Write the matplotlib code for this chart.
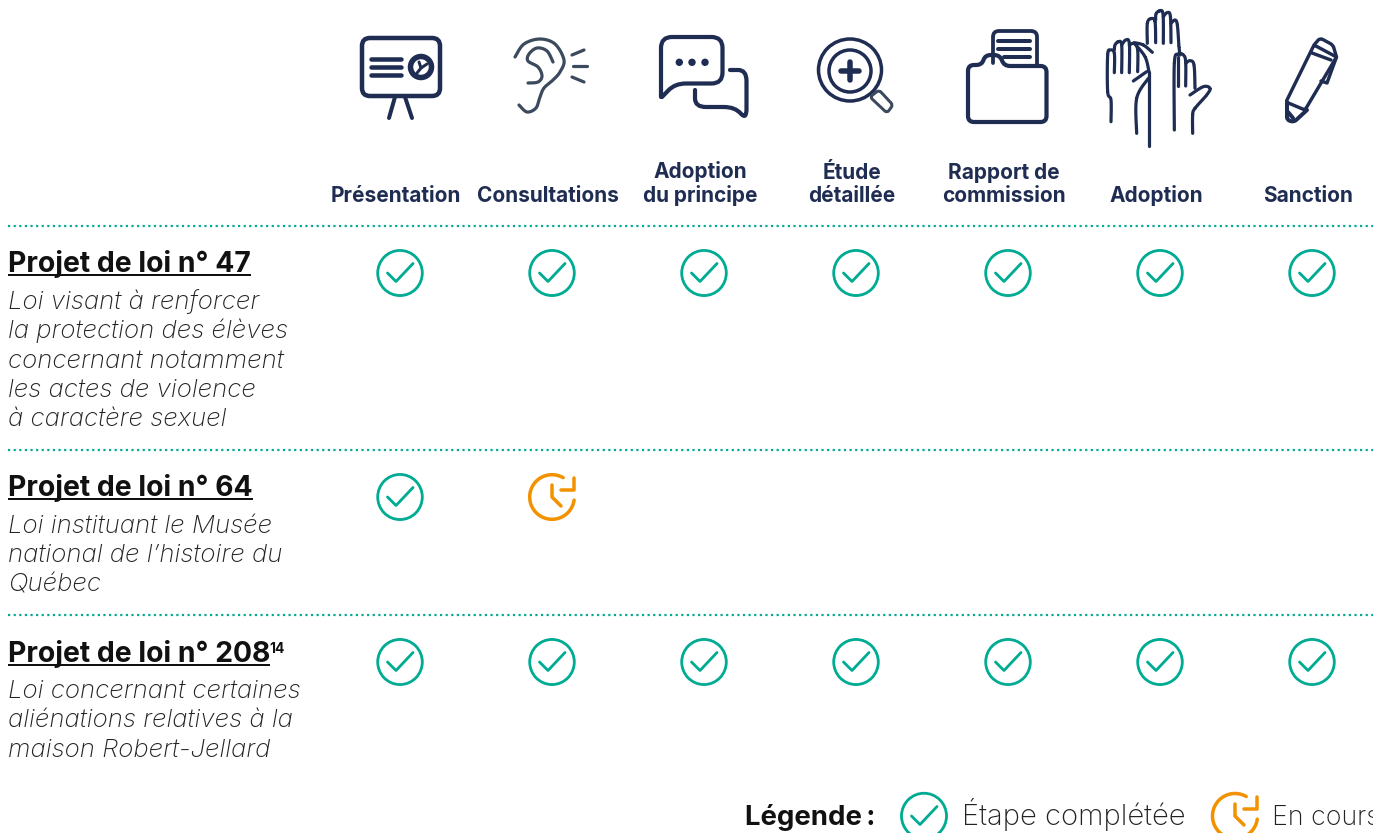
import numpy as np
import matplotlib
matplotlib.use('Agg')
import matplotlib.pyplot as plt
from matplotlib.path import Path
from matplotlib.patches import PathPatch, Ellipse, Circle

# --- data ---
stages = ['Présentation', 'Consultations', 'Adoption\ndu principe', 'Étude\ndétaillée',
          'Rapport de\ncommission', 'Adoption', 'Sanction']
bill_titles = ['Projet de loi n° 47', 'Projet de loi n° 64', 'Projet de loi n° 208']
bill_notes = [
    ['Loi visant à renforcer', 'la protection des élèves', 'concernant notamment',
     'les actes de violence', 'à caractère sexuel'],
    ['Loi instituant le Musée', 'national de l’histoire du', 'Québec'],
    ['Loi concernant certaines', 'aliénations relatives à la', 'maison Robert-Jellard'],
]
# d = étape complétée, c = en cours, - = rien
bill_status = ['ddddddd', 'dc-----', 'ddddddd']
legend_title = 'Légende\u2009:'
legend_done = 'Étape complétée'
legend_current = 'En cours'

NAVY = '#1f2d52'
SLATE = '#3b4a5c'
TEAL = '#00ab93'
ORANGE = '#f39200'
BOLD = 'Inter'
LIGHT = 'Inter'

fig = plt.figure(figsize=(13.73, 8.33), dpi=100)
ax = fig.add_axes([0, 0, 1, 1])
ax.set_xlim(0, 1373)
ax.set_ylim(833, 0)
ax.axis('off')

def px(w):
    return w * 0.72

def line(pts, color=NAVY, w=3.5, closed=False):
    pts = list(pts)
    codes = [Path.MOVETO] + [Path.LINETO] * (len(pts) - 1)
    if closed:
        pts.append(pts[0])
        codes.append(Path.CLOSEPOLY)
    ax.add_patch(PathPatch(Path(pts, codes), fill=False, ec=color, lw=px(w),
                           capstyle='round', joinstyle='round'))

def rounded(pts, r, color=NAVY, w=3.5, closed=False):
    # polyline with corners cut by quadratic curves
    pts = [np.array(p, float) for p in pts]
    n = len(pts)
    verts, codes = [], []
    for i, p in enumerate(pts):
        if not closed and i in (0, n - 1):
            verts.append(p)
            codes.append(Path.MOVETO if i == 0 else Path.LINETO)
            continue
        a = pts[i - 1]
        b = pts[(i + 1) % n]
        ra = min(r, np.linalg.norm(a - p) / 2)
        rb = min(r, np.linalg.norm(b - p) / 2)
        p1 = p + (a - p) / np.linalg.norm(a - p) * ra
        p2 = p + (b - p) / np.linalg.norm(b - p) * rb
        verts += [p1, p, p2]
        codes += [Path.MOVETO if (i == 0) else Path.LINETO, Path.CURVE3, Path.CURVE3]
    if closed:
        verts.append(verts[0])
        codes.append(Path.CLOSEPOLY)
    ax.add_patch(PathPatch(Path(verts, codes), fill=False, ec=color, lw=px(w),
                           capstyle='round', joinstyle='round'))

def smooth(pts, color=NAVY, w=3.0):
    # catmull-rom through the hand picked outline points
    p = np.array(pts, float)
    p = np.vstack([p[0], p, p[-1]])
    out = []
    for i in range(1, len(p) - 2):
        for t in np.linspace(0, 1, 12):
            out.append(0.5 * ((2 * p[i]) + (-p[i - 1] + p[i + 1]) * t
                              + (2 * p[i - 1] - 5 * p[i] + 4 * p[i + 1] - p[i + 2]) * t ** 2
                              + (-p[i - 1] + 3 * p[i] - 3 * p[i + 1] + p[i + 2]) * t ** 3))
    line(out, color, w)

def check_mark(cx, cy, r=22.3):
    ax.add_patch(Ellipse((cx, cy), 2 * r, 2 * r + 0.5, fill=False, ec=TEAL, lw=px(2.8)))
    line([(cx - 12.5, cy), (cx - 4, cy + 8.5), (cx + 13, cy - 9.5)], TEAL, 2.8)

def clock_mark(cx, cy, r=22.3):
    a = np.radians(np.linspace(60, 352, 80))
    line(np.c_[cx + r * np.cos(a), cy - r * np.sin(a)], ORANGE, 3.5)
    line([(cx + 22, cy - 19), (cx + 22, cy - 7), (cx + 9, cy - 7)], ORANGE, 3.5)
    line([(cx, cy - 12), (cx, cy), (cx + 9, cy + 9)], ORANGE, 3.5)

def icon_presentation():
    rounded([(362, 38), (440, 38), (440, 96), (362, 96)], 8, closed=True, w=4.5)
    for y in (59, 67, 75):
        line([(371, y), (401, y)], w=4.5)
    ax.add_patch(Circle((421, 67), 10.5, fill=False, ec=NAVY, lw=px(5.5)))
    line([(419, 62), (421, 68), (427, 64)], w=3)
    line([(421, 68), (417, 73)], w=3)
    line([(395, 97), (389, 118)], w=4)
    line([(405, 97), (412, 118)], w=4)

def icon_ear():
    smooth([(515, 57), (524, 44), (540, 39), (555, 44), (564, 60), (560, 72), (553, 80),
            (544, 88), (540, 97), (536, 108), (527, 112), (519, 105)], SLATE, 3.2)
    smooth([(553, 62), (547, 51), (537, 48), (529, 54), (528, 61), (538, 67), (542, 76),
            (538, 82), (528, 83)], SLATE, 3.2)
    line([(572, 55), (584, 50)], SLATE, 3.2)
    line([(573, 66), (587, 66)], SLATE, 3.2)
    line([(572, 77), (584, 82)], SLATE, 3.2)

def icon_chat():
    rounded([(661, 97), (661, 37), (722.5, 37), (722.5, 83.5), (675, 83.5), (662, 97)], 11, w=4.2)
    for x in (679.3, 692, 705):
        ax.add_patch(Circle((x, 62.3), 3.7, fc=NAVY, ec='none'))
    rounded([(730, 70), (746.5, 70), (746.5, 120), (735, 107), (695, 107), (695, 90)], 11, w=4.2)

def icon_magnifier():
    ax.add_patch(Ellipse((850, 70), 63, 62, fill=False, ec=NAVY, lw=px(3.5)))
    ax.add_patch(Ellipse((850, 71), 42, 42, fill=False, ec=NAVY, lw=px(3.5)))
    line([(841, 71), (859, 71)], w=5.5)
    line([(850, 62), (850, 80)], w=5.5)
    rounded([(870, 97), (879, 90), (893, 105), (887, 113)], 3, SLATE, 3, closed=True)

def icon_folder():
    rounded([(993, 63), (993, 31), (1037, 31), (1037, 64)], 6, w=3.8)
    for x0, y in ((997.5, 41), (997.5, 49), (1004, 57)):
        line([(x0, y), (1030, y)], w=4)
    rounded([(968, 65), (982, 65), (985, 55), (1000, 55), (1004, 66), (1046.5, 66),
             (1046.5, 122), (968, 122)], 6, closed=True, w=4.2)

def icon_hands():
    # zoomed coordinates, folded back into the page here
    h = lambda pts: [(1095 + x / 3, y / 3) for x, y in pts]
    w = 3.2
    smooth(h([(157, 130), (157, 70), (168, 56), (180, 65), (182, 128)]), w=w)
    smooth(h([(182, 60), (183, 42), (193, 33), (204, 42), (205, 130)]), w=w)
    smooth(h([(205, 50), (216, 38), (226, 48), (228, 128)]), w=w)
    smooth(h([(228, 70), (240, 60), (247, 75), (252, 140), (255, 165)]), w=w)
    line(h([(162, 215), (162, 438)]), w=w)
    smooth(h([(48, 365), (48, 300), (38, 275), (38, 165), (46, 150), (58, 160), (58, 218)]), w=w)
    smooth(h([(58, 150), (60, 135), (70, 125), (80, 135), (80, 218)]), w=w)
    smooth(h([(80, 135), (92, 120), (103, 130), (103, 218)]), w=w)
    smooth(h([(103, 135), (118, 130), (128, 150), (128, 215)]), w=w)
    smooth(h([(118, 130), (150, 170), (162, 215)]), w=w)
    smooth(h([(118, 128), (145, 135), (172, 157)]), w=w)
    line(h([(115, 243), (155, 215)]), w=w)
    smooth(h([(125, 400), (125, 295), (160, 235)]), w=w)
    smooth(h([(238, 390), (238, 190), (250, 162), (265, 165), (272, 185), (272, 258)]), w=w)
    line(h([(250, 170), (250, 258)]), w=w)
    smooth(h([(272, 190), (285, 182), (297, 195), (300, 265)]), w=w)
    smooth(h([(285, 285), (325, 260), (345, 265), (335, 285), (300, 325), (293, 345), (293, 400)]), w=w)

def icon_pen():
    rounded([(1314, 45), (1336.5, 57), (1305, 110), (1286, 102)], 2, closed=True, w=3.4)
    rounded([(1287, 103), (1287, 120), (1294, 122), (1307, 110)], 3, w=4)
    line([(1288, 112), (1293, 118)], w=4)
    rounded([(1314, 45), (1320, 38), (1333, 45), (1336.5, 57)], 3, w=3.4)
    line([(1336.5, 57), (1327, 83), (1321, 81)], w=3.4)
    line([(1312, 53), (1331, 60)], w=3.4)

icon_presentation()
icon_ear()
icon_chat()
icon_magnifier()
icon_folder()
icon_hands()
icon_pen()

# --- table ---
col_x = 400 + 152 * np.arange(len(stages))
row_tops = [226, 450, 615]
row_marks = [273, 497, 662]
row_titles = [272, 496, 662]
row_first_note = [309, 533, 698]

for x, s in zip(col_x, stages):
    ax.text(x - 4, 202, s, ha='center', va='baseline', family=BOLD, weight='bold',
            fontsize=15, color=NAVY, linespacing=1.2)

for y in row_tops:
    ax.plot([8, 1373], [y, y], color=TEAL, lw=px(2.2), linestyle=(0, (1, 1.55)))

for i, title in enumerate(bill_titles):
    t = ax.text(8, row_titles[i], title, ha='left', va='baseline', family=BOLD,
                weight='bold', fontsize=20.4, color='#111111')
    fig.canvas.draw()
    bb = t.get_window_extent()
    ax.plot([8, bb.x1], [row_titles[i] + 3, row_titles[i] + 3], color='#111111', lw=px(2),
            solid_capstyle='butt')
    if i == 2:
        ax.text(bb.x1 - 1, row_titles[i] - 9, '14', ha='left', va='baseline', family=BOLD,
                weight='bold', fontsize=10, color='#111111')
    for j, note in enumerate(bill_notes[i]):
        ax.text(8, row_first_note[i] + j * 29.2, note, ha='left', va='baseline', family=LIGHT,
                style='italic', weight='light', fontsize=18.6, color='#222222')
    for x, st in zip(col_x, bill_status[i]):
        if st == 'd':
            check_mark(x, row_marks[i])
        elif st == 'c':
            clock_mark(x, row_marks[i])

# --- legend, the last word touches the page edge like the source ---
ax.text(745, 825, legend_title, ha='left', va='baseline', family=BOLD, weight='bold',
        fontsize=19.8, color='#111111')
check_mark(924, 816, 22.5)
ax.text(962, 825, legend_done, ha='left', va='baseline', family=LIGHT, weight='light',
        fontsize=21, color='#222222')
clock_mark(1235, 816, 22.5)
ax.text(1272, 825, legend_current, ha='left', va='baseline', family=LIGHT, weight='light',
        fontsize=19.3, color='#222222', clip_on=True)

fig.savefig('out.png', dpi=100)
